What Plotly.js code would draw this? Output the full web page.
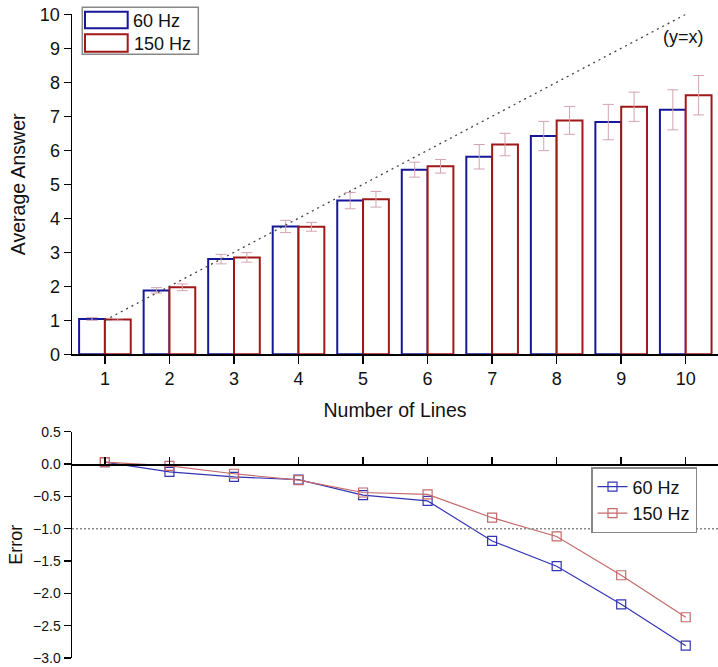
<!DOCTYPE html>
<html>
<head>
<meta charset="utf-8">
<script src="https://cdn.plot.ly/plotly-3.0.1.min.js"></script>
<style>
  html, body { margin: 0; padding: 0; background: #fff; }
  #chart { width: 718px; height: 667px; }
</style>
</head>
<body>
<div id="chart"></div>
<script>
// Number of lines shown in each trial
const lines = [1, 2, 3, 4, 5, 6, 7, 8, 9, 10];

// Average answer given by subjects, per refresh rate
const avg60  = [1.04, 1.88, 2.80, 3.76, 4.52, 5.43, 5.81, 6.42, 6.83, 7.19];
const avg150 = [1.02, 1.97, 2.85, 3.75, 4.56, 5.53, 6.17, 6.88, 7.28, 7.62];

// Spread of the answers (error bar half-length)
const spread60  = [0.04, 0.08, 0.14, 0.18, 0.24, 0.22, 0.36, 0.43, 0.52, 0.59];
const spread150 = [0.03, 0.10, 0.14, 0.13, 0.23, 0.20, 0.33, 0.41, 0.43, 0.58];

// Error = answer minus true number of lines
const err60  = [0.03, -0.12, -0.20, -0.24, -0.48, -0.57, -1.19, -1.58, -2.17, -2.81];
const err150 = [0.03, -0.03, -0.15, -0.25, -0.44, -0.47, -0.83, -1.12, -1.72, -2.37];

const seriesNames = ['60 Hz', '150 Hz'];
const errorThreshold = -1;

const W = 718, H = 667;
const M = { l: 72, r: 0, t: 0, b: 0 };
const FONT = 'Liberation Sans, Arial, Helvetica, sans-serif';

const BLUE = '#17179a';
const RED = '#a01818';
const BLUE_LINE = '#3434b4';
const RED_LINE = '#c46a6a';
const ERRBAR = '#d3a3b2';

// pixel -> paper helpers for the hand-drawn legend
const px = v => (v - M.l) / (W - M.l - M.r);
const py = v => 1 - (v - M.t) / (H - M.t - M.b);

const topDomain = [py(354.3), py(14.3)];
const botDomain = [py(658), py(431.7)];
const botRange = [-3, 0.5];
const zeroPos = botDomain[0] + (0 - botRange[0]) / (botRange[1] - botRange[0]) * (botDomain[1] - botDomain[0]);

const traces = [
  {
    type: 'bar', x: lines, y: avg60, name: seriesNames[0],
    marker: { color: '#ffffff', line: { color: BLUE, width: 2 } },
    error_y: { type: 'data', array: spread60, visible: true, color: ERRBAR, thickness: 1, width: 5.5 },
    showlegend: false, xaxis: 'x', yaxis: 'y'
  },
  {
    type: 'bar', x: lines, y: avg150, name: seriesNames[1],
    marker: { color: '#ffffff', line: { color: RED, width: 2 } },
    error_y: { type: 'data', array: spread150, visible: true, color: ERRBAR, thickness: 1, width: 5.5 },
    showlegend: false, xaxis: 'x', yaxis: 'y'
  },
  {
    // identity reference line y = x
    type: 'scatter', mode: 'lines',
    x: [lines[0], lines[lines.length - 1]],
    y: [lines[0], lines[lines.length - 1]],
    line: { color: '#444444', width: 1.3, dash: '2px,4px' },
    showlegend: false, hoverinfo: 'skip', xaxis: 'x', yaxis: 'y'
  },
  {
    type: 'scatter', mode: 'lines+markers', x: lines, y: err60, name: seriesNames[0],
    line: { color: BLUE_LINE, width: 1.2 },
    marker: { symbol: 'square-open', size: 9, color: BLUE_LINE, line: { width: 1.2 } },
    xaxis: 'x2', yaxis: 'y2', legend: 'legend'
  },
  {
    type: 'scatter', mode: 'lines+markers', x: lines, y: err150, name: seriesNames[1],
    line: { color: RED_LINE, width: 1.2 },
    marker: { symbol: 'square-open', size: 9, color: RED_LINE, line: { width: 1.2 } },
    xaxis: 'x2', yaxis: 'y2', legend: 'legend'
  }
];

const axisBase = {
  showgrid: false, zeroline: false, showline: true,
  linecolor: '#000', linewidth: 1.5, tickcolor: '#000', tickwidth: 1.5,
  fixedrange: true
};

const layout = {
  width: W, height: H,
  margin: M,
  paper_bgcolor: '#fff', plot_bgcolor: 'rgba(0,0,0,0)',
  font: { family: FONT, color: '#111' },
  barmode: 'group', bargap: 0.2, bargroupgap: 0,
  showlegend: true,
  xaxis: Object.assign({}, axisBase, {
    domain: [0, 1], anchor: 'y', range: [0.49, 10.5],
    tickvals: lines, ticks: 'outside', ticklen: 8,
    tickfont: { size: 18, family: FONT },
    title: { text: 'Number of Lines', font: { size: 19.5, family: FONT }, standoff: 15 }
  }),
  yaxis: Object.assign({}, axisBase, {
    domain: topDomain, anchor: 'x', range: [0, 10], dtick: 1,
    ticks: 'outside', ticklen: 7,
    tickfont: { size: 18, family: FONT },
    title: { text: 'Average Answer', font: { size: 19.5, family: FONT }, standoff: 9 }
  }),
  xaxis2: Object.assign({}, axisBase, {
    domain: [0, 1], anchor: 'free', position: zeroPos, side: 'bottom',
    range: [0.49, 10.5], tickvals: lines, ticks: 'inside', ticklen: 7,
    showticklabels: false
  }),
  yaxis2: Object.assign({}, axisBase, {
    domain: botDomain, anchor: 'x2', range: botRange, dtick: 0.5, tickformat: '.1f',
    ticks: 'outside', ticklen: 7,
    tickfont: { size: 14, family: FONT },
    title: { text: 'Error', font: { size: 18, family: FONT }, standoff: 6 }
  }),
  legend: {
    x: px(591), y: py(467), xanchor: 'left', yanchor: 'top',
    bgcolor: '#fff', bordercolor: '#888', borderwidth: 1.5,
    font: { size: 18, family: FONT, color: '#111' },
    tracegroupgap: 0, itemwidth: 30
  },
  shapes: [
    // error threshold
    { type: 'line', xref: 'x2 domain', yref: 'y2', x0: 0, x1: 1, y0: errorThreshold, y1: errorThreshold,
      line: { color: '#8a8a8a', width: 1.5, dash: '2px,2px' } },
    // legend frame for the bar chart
    { type: 'rect', xref: 'paper', yref: 'paper', x0: px(82.3), x1: px(198.3), y0: py(54.3), y1: py(7.3),
      line: { color: '#888', width: 1.5 }, fillcolor: '#fff' },
    { type: 'rect', xref: 'paper', yref: 'paper', x0: px(85), x1: px(127.7), y0: py(28.3), y1: py(11.7),
      line: { color: BLUE, width: 2 }, fillcolor: '#fff' },
    { type: 'rect', xref: 'paper', yref: 'paper', x0: px(85), x1: px(127.7), y0: py(51.7), y1: py(34.3),
      line: { color: RED, width: 2 }, fillcolor: '#fff' }
  ],
  annotations: [
    { xref: 'paper', yref: 'paper', x: px(131), y: py(21), xanchor: 'left', yanchor: 'middle',
      text: seriesNames[0], showarrow: false, font: { size: 18, family: FONT, color: '#111' } },
    { xref: 'paper', yref: 'paper', x: px(132), y: py(44), xanchor: 'left', yanchor: 'middle',
      text: seriesNames[1], showarrow: false, font: { size: 18, family: FONT, color: '#111' } },
    { xref: 'x', yref: 'y', x: 9.97, y: 9.33, xanchor: 'center', yanchor: 'middle',
      text: '(y=x)', showarrow: false, font: { size: 18, family: FONT, color: '#111' } }
  ]
};

Plotly.newPlot('chart', traces, layout, { staticPlot: true, displayModeBar: false });
</script>
</body>
</html>
